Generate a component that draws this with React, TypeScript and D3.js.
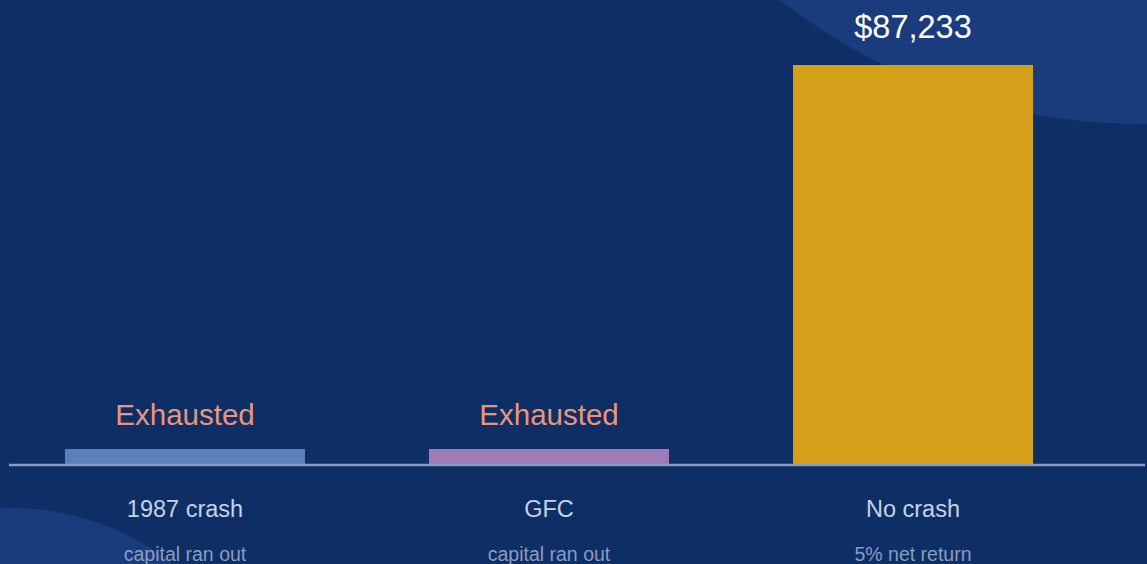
import React from "react";
import * as d3 from "d3";

const categories = ["1987 crash", "GFC", "No crash"];
const subLabels = ["capital ran out", "capital ran out", "5% net return"];
const values = [0, 0, 87233];
const exhausted = [true, true, false];
const barColors = ["#5d7fb7", "#9e7cb6", "#d4a01a"];

const W = 1147;
const H = 564;

export default function App() {
  const x = d3
    .scaleBand<string>()
    .domain(categories)
    .range([3, 1095])
    .paddingInner(124 / 364)
    .paddingOuter(62 / 364);
  const y = d3.scaleLinear().domain([0, d3.max(values) as number]).range([465, 65]);
  const minStub = 16;
  const fmt = d3.format("$,");
  const font = "'Liberation Sans', Arial, Helvetica, sans-serif";

  return (
    <div style={{ position: "fixed", left: 0, top: 0, width: W, height: H, overflow: "hidden" }}>
      <svg width={W} height={H} style={{ display: "block", fontFamily: font }}>
        <rect width={W} height={H} fill="#0e2f66" />
        <circle cx={1140} cy={-461} r={585} fill="#1b3c7c" />
        <circle cx={13} cy={764} r={256} fill="#1b3c7c" />
        {categories.map((c, i) => {
          const bx = x(c) as number;
          const bw = x.bandwidth();
          const top = Math.min(y(values[i]), y(0) - minStub);
          const cx = bx + bw / 2;
          return (
            <g key={c}>
              <rect x={bx} y={top} width={bw} height={y(0) - top} fill={barColors[i]} />
              {exhausted[i] ? (
                <text x={cx} y={top - 24} textAnchor="middle" fill="#e8967b" fontSize={29.5}>
                  Exhausted
                </text>
              ) : (
                <text x={cx} y={top - 27} textAnchor="middle" fill="#ffffff" fontSize={32.5}>
                  {fmt(values[i])}
                </text>
              )}
              <text x={cx} y={517} textAnchor="middle" fill="#c6d2e6" fontSize={23.5}>
                {c}
              </text>
              <text x={cx} y={561} textAnchor="middle" fill="#8a9cc0" fontSize={19.5}>
                {subLabels[i]}
              </text>
            </g>
          );
        })}
        <line x1={9} x2={1145} y1={465} y2={465} stroke="#8c9dbf" strokeWidth={2.5} />
      </svg>
    </div>
  );
}
